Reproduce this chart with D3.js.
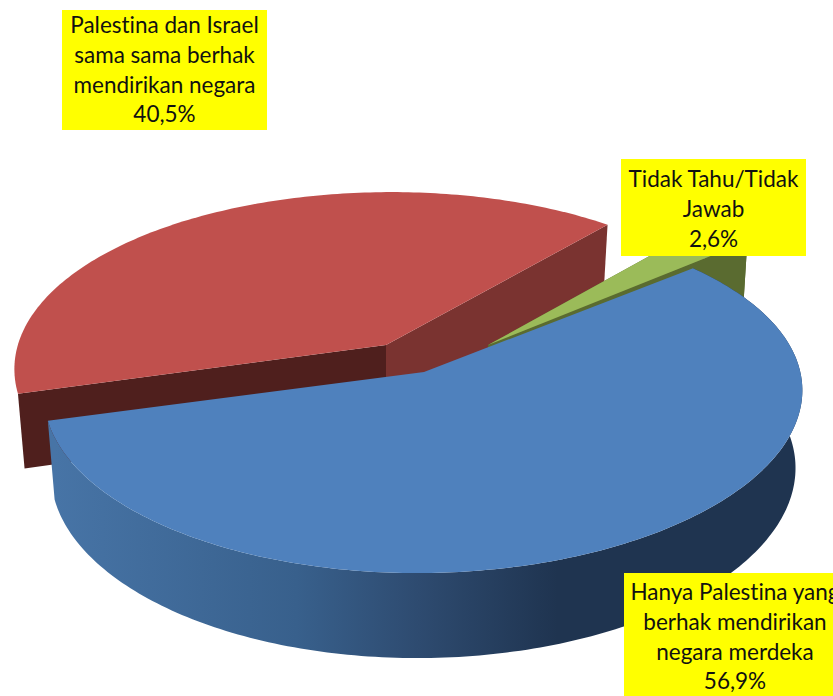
<!DOCTYPE html>
<html><head><meta charset="utf-8">
<script src="https://cdn.jsdelivr.net/npm/d3@7"></script>
<style>html,body{margin:0;padding:0;background:#fff}svg{display:block}</style>
</head><body><svg id="c" width="833" height="696"></svg>
<script>
const categories = ["Hanya Palestina yang berhak mendirikan negara merdeka","Palestina dan Israel sama sama berhak mendirikan negara","Tidak Tahu/Tidak Jawab"];
const values = [56.9, 40.5, 2.6];
const valueLabels = ["56,9%","40,5%","2,6%"];
const labelLines = [["Hanya Palestina yang","berhak mendirikan","negara merdeka"],["Palestina dan Israel","sama sama berhak","mendirikan negara"],["Tidak Tahu/Tidak","Jawab"]];
const topColors = ["#4f81bd","#c0504d","#9bbb59"];
const startFaceColors = ["#1f3450","#4f1f1d","#5a6b30"];
const endFaceColors = ["#1f3450","#7a3330","#5a6b30"];

// layout (not data)
const apex = [[424,372],[386,345],[488,345]];
const xScaleBySlice = [1.017,0.995,0.98];
const depthBySlice = [77,73,77];
const boxes = [[624,573,222,123],[62,10,205,120],[621,159,185,97]];
const firstBaseline = [27,23,28];
const A=370, B=173.7, P=0.136, PX=0.12, SHEAR=-6, KX=0.982, KY=1.04, START_DEG=49.5;

const svg=d3.select("#c");
const defs=svg.append("defs");
const grad=defs.append("linearGradient").attr("id","blueSide").attr("gradientUnits","userSpaceOnUse")
  .attr("x1",55).attr("x2",660).attr("y1",0).attr("y2",0);
[[0,"#4774a6"],[.4,"#38608c"],[.6,"#2e4b70"],[.83,"#1f3450"],[1,"#1f3450"]].forEach(s=>grad.append("stop").attr("offset",s[0]).attr("stop-color",s[1]));

const pie=d3.pie().sort(null).startAngle(START_DEG*Math.PI/180).endAngle((START_DEG+360)*Math.PI/180);
const arcs=pie(values);
const line=d3.line();

function proj(i,th,r,low){
  const x=r*Math.sin(th), y=-r*Math.cos(th), w=1-P*y, wx=1-PX*y;
  const [ax,ay]=apex[i], ax0=A*xScaleBySlice[i], sx=SHEAR*y/w;
  return low ? [ax+ax0*KX*x/wx+sx, ay+depthBySlice[i]+B*KY*y/w] : [ax+ax0*x/wx+sx, ay+B*y/w];
}
function edge(i,a,low){
  const n=Math.max(8,Math.ceil((a.endAngle-a.startAngle)*60));
  return d3.range(n+1).map(k=>proj(i,a.startAngle+(a.endAngle-a.startAngle)*k/n,1,low));
}
function draw(i){
  const a=arcs[i], g=svg.append("g");
  const top=edge(i,a,false), bot=edge(i,a,true);
  if(i!==1) g.append("path").attr("d",line(top.concat(bot.slice().reverse()))+"Z")
    .attr("fill",i===0?"url(#blueSide)":startFaceColors[i]);
  const cT=proj(i,0,0,false), cB=proj(i,0,0,true);
  if(i!==0) [[a.startAngle,startFaceColors[i]],[a.endAngle,endFaceColors[i]]].forEach(([th,c])=>{
    g.append("path").attr("d",line([cT,proj(i,th,1,false),proj(i,th,1,true),cB])+"Z").attr("fill",c);
  });
  g.append("path").attr("d",line([cT,...top])+"Z").attr("fill",topColors[i]);
}
[1,2,0].forEach(draw);

[1,2,0].forEach(i=>{
  const [x,y,w,h]=boxes[i];
  const g=svg.append("g");
  g.append("rect").attr("x",x).attr("y",y).attr("width",w).attr("height",h).attr("fill","#ffff00");
  const lines=labelLines[i].concat([valueLabels[i]]);
  g.selectAll("text").data(lines).join("text")
    .attr("x",x+w/2).attr("y",(d,k)=>y+firstBaseline[i]+k*29.8)
    .attr("text-anchor","middle").attr("font-family","Lato, 'Open Sans', sans-serif").attr("font-size",22.5)
    .style("font-variant-ligatures","none").attr("fill","#111")
    .text(d=>d);
});
</script></body></html>
